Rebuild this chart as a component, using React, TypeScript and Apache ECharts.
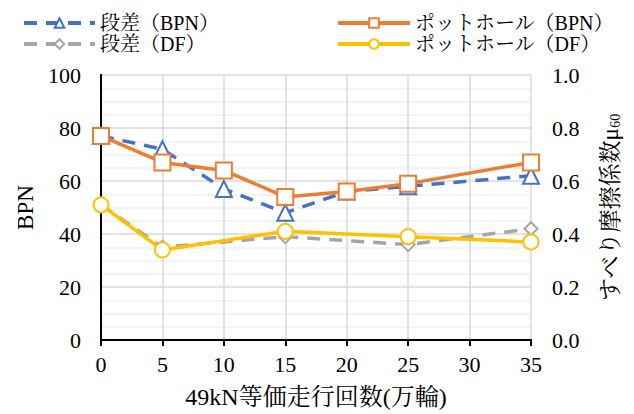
import React, { useEffect, useRef } from "react";
import * as echarts from "echarts";

const xBPN = [0, 5, 10, 15, 20, 25, 35];
const stepBPN = [77, 72, 57, 48, 56, 58, 62];
const potholeBPN = [77, 67, 64, 54, 56, 59, 67];
const xDF = [0, 5, 15, 25, 35];
const stepDF = [0.51, 0.35, 0.39, 0.36, 0.42];
const potholeDF = [0.51, 0.34, 0.41, 0.39, 0.37];

const names = ["段差（BPN）", "段差（DF）", "ポットホール（BPN）", "ポットホール（DF）"];
const FONT = "Liberation Serif, Noto Serif CJK JP, Noto Sans CJK JP, serif";

const pairs = (xs: number[], ys: number[]) => xs.map((x, i) => [x, ys[i]]);

export default function App() {
  const ref = useRef<HTMLDivElement>(null);
  useEffect(() => {
    const chart = echarts.init(ref.current!, null, { renderer: "svg" });
    const axisLabel = { fontFamily: FONT, fontSize: 22, color: "#000" };
    const legendText = { fontFamily: FONT, fontSize: 20, color: "#000" };
    chart.setOption({
      animation: false,
      backgroundColor: "#fff",
      textStyle: { fontFamily: FONT },
      grid: { left: 101, right: 103, top: 75, bottom: 71 },
      legend: [
        {
          data: [names[0], names[1]],
          orient: "vertical",
          left: 17,
          top: 8,
          itemWidth: 71,
          itemHeight: 12,
          itemGap: 1,
          textStyle: legendText,
          lineStyle: { width: 4 },
        },
        {
          data: [names[2], names[3]],
          orient: "vertical",
          left: 331,
          top: 8,
          itemWidth: 72,
          itemHeight: 12,
          itemGap: 1,
          textStyle: legendText,
          lineStyle: { width: 4 },
        },
      ],
      xAxis: [
        {
          type: "value",
          min: 0,
          max: 35,
          interval: 5,
          name: "49kN等価走行回数(万輪)",
          nameLocation: "middle",
          nameGap: 45,
          nameTextStyle: { fontFamily: FONT, fontSize: 24, color: "#000" },
          axisLine: { lineStyle: { color: "#000", width: 2 } },
          axisTick: { show: true, length: 6, lineStyle: { color: "#000", width: 2 } },
          axisLabel: { ...axisLabel, margin: 13 },
          splitLine: { show: true, lineStyle: { color: "#d9d9d9", width: 1.5 } },
        },
        {
          type: "value",
          position: "top",
          min: 0,
          max: 35,
          interval: 5,
          axisLine: { show: true, lineStyle: { color: "#000", width: 2 } },
          axisTick: { show: false },
          axisLabel: { show: false },
          splitLine: { show: false },
        },
      ],
      yAxis: [
        {
          type: "value",
          min: 0,
          max: 100,
          interval: 20,
          name: "BPN",
          nameLocation: "middle",
          nameGap: 64,
          nameRotate: 90,
          nameTextStyle: { fontFamily: FONT, fontSize: 23, color: "#000" },
          axisLine: { show: true, lineStyle: { color: "#000", width: 2 } },
          axisTick: { show: false },
          axisLabel: { ...axisLabel, margin: 20 },
          splitLine: { show: true, lineStyle: { color: "#d9d9d9", width: 1.5 } },
          minorTick: { show: false, splitNumber: 4 },
          minorSplitLine: { show: true, lineStyle: { color: "#efefef", width: 1.5 } },
        },
        {
          type: "value",
          min: 0,
          max: 1,
          interval: 0.2,
          position: "right",
          name: "{a|すべり摩擦係数μ}{b|60}",
          nameLocation: "middle",
          nameGap: 68,
          nameRotate: 90,
          nameTextStyle: {
            fontFamily: FONT,
            color: "#000",
            rich: {
              a: { fontFamily: FONT, fontSize: 23, color: "#000" },
              b: { fontFamily: FONT, fontSize: 14, color: "#000", verticalAlign: "bottom", padding: [9, 0, 0, 0] },
            },
          },
          axisLine: { show: true, lineStyle: { color: "#000", width: 2 } },
          axisTick: { show: false },
          axisLabel: { ...axisLabel, margin: 21, formatter: (v: number) => v.toFixed(1) },
          splitLine: { show: false },
        },
      ],
      series: [
        {
          name: names[0],
          type: "line",
          data: pairs(xBPN, stepBPN),
          yAxisIndex: 0,
          symbol: "triangle",
          symbolSize: 16,
          lineStyle: { color: "#4472C4", width: 3.5, type: [13, 9] },
          itemStyle: { color: "#fff", borderColor: "#4472C4", borderWidth: 2 },
          z: 2,
        },
        {
          name: names[1],
          type: "line",
          data: pairs(xDF, stepDF),
          yAxisIndex: 1,
          symbol: "diamond",
          symbolSize: 13,
          lineStyle: { color: "#A5A5A5", width: 3.5, type: [13, 9] },
          itemStyle: { color: "#fff", borderColor: "#A5A5A5", borderWidth: 2 },
          z: 2,
        },
        {
          name: names[2],
          type: "line",
          data: pairs(xBPN, potholeBPN),
          yAxisIndex: 0,
          symbol: "rect",
          symbolSize: 16,
          lineStyle: { color: "#ED7D31", width: 3.5 },
          itemStyle: { color: "#fff", borderColor: "#ED7D31", borderWidth: 2 },
          z: 3,
        },
        {
          name: names[3],
          type: "line",
          data: pairs(xDF, potholeDF),
          yAxisIndex: 1,
          symbol: "circle",
          symbolSize: 15,
          lineStyle: { color: "#FFC000", width: 3.5 },
          itemStyle: { color: "#fff", borderColor: "#FFC000", borderWidth: 2 },
          z: 3,
        },
      ],
    });
    return () => chart.dispose();
  }, []);
  return <div ref={ref} style={{ width: 634, height: 414, position: "fixed", left: 0, top: 0 }} />;
}
